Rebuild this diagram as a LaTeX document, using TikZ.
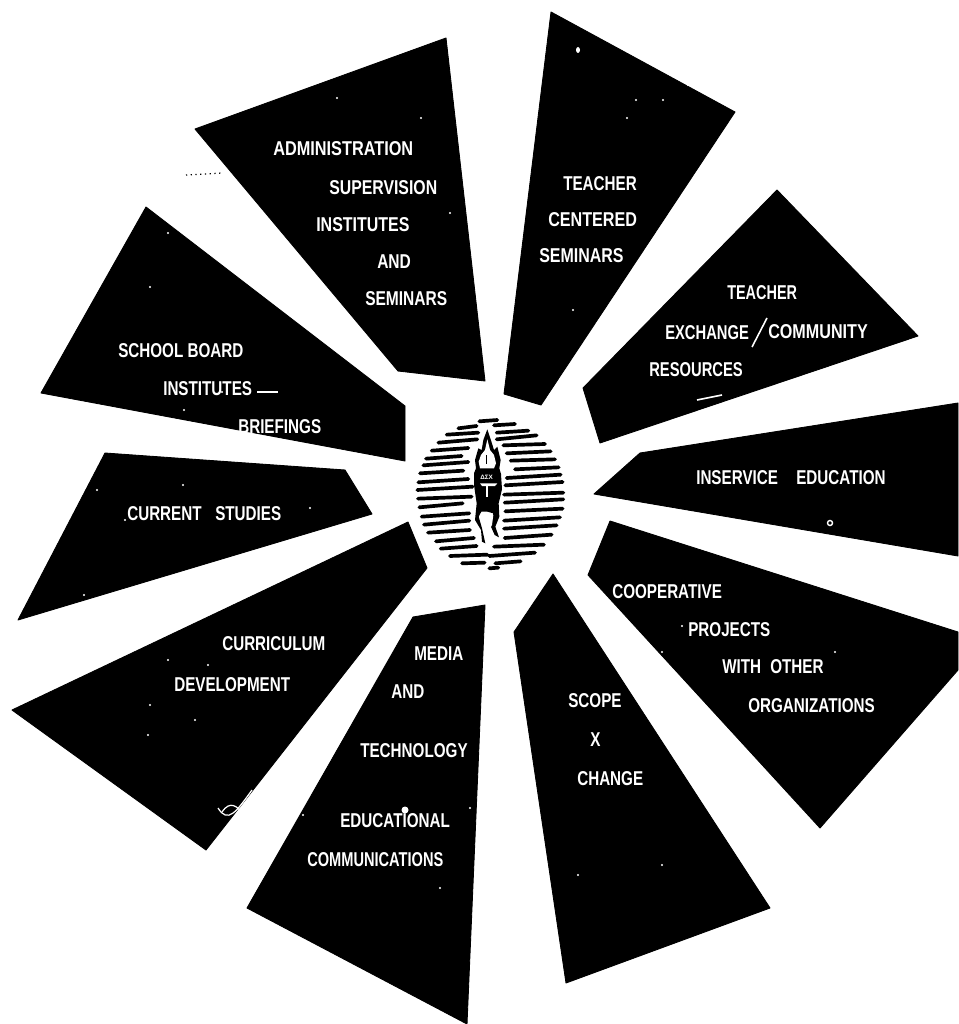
\documentclass[tikz,border=0pt]{standalone}
\usepackage{fontspec}
\setmainfont{Liberation Sans}[BoldFont={Liberation Sans Bold}]
\begin{document}
\begin{tikzpicture}[x=0.02cm,y=-0.02cm,
  panel/.style={fill=black,draw=black,line width=0.5pt,line join=round},
  lbl/.style={text=white,font=\fontsize{11.4}{12}\selectfont\bfseries,inner sep=0pt,anchor=base west,xscale=.76},
  stripe/.style={line width=2.1pt,line cap=round,black},
  speck/.style={fill=white,draw=none}]
\useasboundingbox (0,0) rectangle (958,1024);
\fill[white] (0,0) rectangle (958,1024);
% panels
\fill[panel] (195,129)--(446,38)--(485,381)--(398,371)--cycle;
\fill[panel] (551,12)--(735,112)--(541,405)--(504,394)--cycle;
\fill[panel] (777,190)--(918,336)--(600,443)--(583,388)--cycle;
\fill[panel] (594,494)--(640,453)--(958,403)--(958,556)--cycle;
\fill[panel] (610,521)--(958,632)--(958,670)--(820,828)--(588,575)--cycle;
\fill[panel] (553,574)--(770,908)--(566,983)--(514,632)--cycle;
\fill[panel] (485,605)--(467,1024)--(247,908)--(413,617)--cycle;
\fill[panel] (408,522)--(427,568)--(206,850)--(12,710)--cycle;
\fill[panel] (105,453)--(345,470)--(372,514)--(18,620)--cycle;
\fill[panel] (146,207)--(405,406)--(405,461)--(41,393)--cycle;
\draw[dotted,line width=.7pt] (186,175)--(222,173);
% labels
\node[lbl,xscale=1.07] (a1) at (273,155) {ADMINISTRATION};
\node[lbl,xscale=1.04] (a2) at (329,194) {SUPERVISION};
\node[lbl,xscale=1.05] (a3) at (316,231) {INSTITUTES};
\node[lbl,xscale=1.02] (a4) at (377,268) {AND};
\node[lbl,xscale=1.02] (a5) at (365,305) {SEMINARS};
\node[lbl] (t1) at (563,190) {TEACHER};
\node[lbl,xscale=1.06] (t2) at (548,226) {CENTERED};
\node[lbl,xscale=1.05] (t3) at (539,262) {SEMINARS};
\node[lbl,xscale=.95] (e1) at (727,299) {TEACHER};
\node[lbl,xscale=.97] (e2) at (665,339) {EXCHANGE};
\node[lbl,xscale=1.06] (e3) at (768,338) {COMMUNITY};
\node[lbl,xscale=.97] (e4) at (649,376) {RESOURCES};
\draw[white,line width=.9pt] (752,347)--(767,318);
\node[lbl] (i1) at (696,484) {INSERVICE};
\node[lbl] (i2) at (796,484) {EDUCATION};
\node[lbl] (c1) at (612,598) {COOPERATIVE};
\node[lbl] (c2) at (688,636) {PROJECTS};
\node[lbl] (c3) at (722,673) {WITH};
\node[lbl] (c4) at (770,673) {OTHER};
\node[lbl] (c5) at (748,712) {ORGANIZATIONS};
\node[lbl] (s1) at (568,707) {SCOPE};
\node[lbl] (s2) at (590,746) {X};
\node[lbl] (s3) at (577,785) {CHANGE};
\node[lbl] (m1) at (414,660) {MEDIA};
\node[lbl] (m2) at (391,698) {AND};
\node[lbl] (m3) at (360,757) {TECHNOLOGY};
\node[lbl] (m4) at (340,827) {EDUCATIONAL};
\node[lbl,xscale=.96] (m5) at (307,866) {COMMUNICATIONS};
\node[lbl] (u1) at (222,650) {CURRICULUM};
\node[lbl] (u2) at (174,691) {DEVELOPMENT};
\node[lbl] (r1) at (127,520) {CURRENT};
\node[lbl] (r2) at (215,520) {STUDIES};
\node[lbl] (b1) at (118,357) {SCHOOL BOARD};
\node[lbl] (b2) at (163,395) {INSTITUTES};
\node[lbl] (b3) at (238,433) {BRIEFINGS};
\draw[white,line width=.8pt] (257,392)--(278,392);
% specks
\foreach \x/\y in {337/98,421/118,450/213,636/100,663/100,688/85,627/118,573/310,578/384,168/233,150/287,184/410,222/392,97/490,183/485,310/508,125/520,84/595,168/660,208/665,150/705,195/720,148/735,578/875,662/865,440/888,303/815,470/808,682/626,662/652,835/652,850/367}
  \fill[speck] (\x,\y) circle (1.2);
\fill[speck] (578,50) ellipse (2 and 3);
\fill[speck] (405,810) circle (3.5);
\draw[white,line width=.9pt] (697,400)--(722,395);
\draw[white,line width=.7pt] (218,808) .. controls (228,824) and (236,812) .. (252,790);
\draw[white,line width=.7pt] (222,812) .. controls (230,800) and (238,806) .. (243,815);
\draw[white,line width=.8pt] (830,523) circle (2.5);
% emblem
\begin{scope}[shift={(400,400)},x=0.00667cm,y=-0.00667cm]
\foreach \a/\b/\c/\d in {
 238/64/292/60, 282/76/345/72, 175/85/230/78, 290/98/385/92, 140/104/235/98, 290/118/410/106,
 115/128/232/118, 310/136/435/132, 95/152/205/144, 320/160/452/154, 78/176/185/168, 332/182/465/178,
 70/196/205/186, 345/208/476/202, 60/220/190/212, 320/234/482/224, 55/247/205/237, 316/256/488/246,
 52/270/218/260, 312/284/490/278, 54/296/215/290, 314/308/490/298, 58/322/188/310, 316/334/488/326,
 65/350/208/340, 312/362/480/352, 72/374/208/362, 312/386/470/376, 84/398/210/390, 314/414/455/404,
 108/424/222/414, 282/440/432/434, 122/446/230/438, 268/468/405/458, 150/468/262/464, 286/490/362/484,
 186/490/254/488, 268/505/295/503}
  \draw[stripe] (\a,\b)--(\c,\d);
% torch
\fill[black] (262,88)--(272,118)--(282,150)--(292,140)--(302,180)--(298,205)--(303,222)--(306,268)--(296,310)--(298,350)--(286,380)--(297,412)--(284,405)--(272,378)--(280,340)--(262,335)--(244,335)--(236,350)--(246,385)--(256,430)--(246,425)--(243,390)--(225,360)--(230,310)--(222,255)--(222,220)--(228,205)--(225,180)--(235,145)--(245,150)--(250,120)--cycle;
\fill[white] (262,118)--(270,150)--(282,165)--(288,190)--(282,205)--(240,205)--(236,185)--(243,165)--(255,150)--cycle;
\fill[white] (240,345)--(280,345)--(276,375)--(262,400)--(252,385)--cycle;
\draw[black,line width=.9pt] (260,165)--(260,192);
\fill[white] (240,250)--(292,250)--(285,258)--(246,258)--cycle;
\draw[white,line width=1pt] (260,252)--(260,290);
\node[text=white,font=\fontsize{3.6}{4}\selectfont\bfseries,inner sep=0pt] (em) at (260,232) {ΔΣΧ};
\end{scope}
\end{tikzpicture}
\end{document}
